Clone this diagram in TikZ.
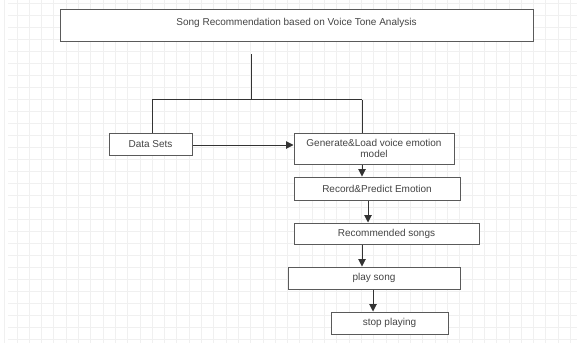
\documentclass[tikz,border=0pt]{standalone}
\usepackage{fontspec}
\setmainfont{Liberation Sans}
\usetikzlibrary{arrows.meta}
\definecolor{gridc}{HTML}{F0F0F0}
\definecolor{boxc}{HTML}{5A5A5A}
\definecolor{linec}{HTML}{333333}
\definecolor{textc}{HTML}{444444}
\tikzset{
  stepbox/.style={draw=boxc, line width=1pt, fill=white, inner sep=0pt,
    text=textc, font=\fontsize{10}{11.5}\selectfont, align=center},
  conn/.style={draw=linec, line width=1pt},
  arr/.style={conn, -{Triangle[length=7.5pt,width=7.5pt]}},
}
\begin{document}
\begin{tikzpicture}[x=1pt,y=-1pt]
\useasboundingbox (0,0) rectangle (577,343);
\fill[white] (0,0) rectangle (577,343);
% background grid
\foreach \gx in {4.5,16.8,...,577} \draw[gridc, line width=0.5pt] (\gx,0) -- (\gx,343);
\foreach \gy in {3,15,...,343} \draw[gridc, line width=0.5pt] (8,\gy) -- (577,\gy);
% nodes
\node[stepbox, minimum width=473pt, text height=12.5pt, text depth=11.5pt, inner ysep=4pt] (title) at (296.5,25) {Song Recommendation based on Voice Tone Analysis};
\node[stepbox, minimum width=83pt, minimum height=22pt] (ds) at (150.5,144) {Data Sets};
\node[stepbox, minimum width=160pt, minimum height=31pt] (gen) at (374,148.5) {Generate\&Load voice emotion\\model};
\node[stepbox, minimum width=166pt, minimum height=23pt] (rec) at (377,188.5) {Record\&Predict Emotion};
\node[stepbox, minimum width=185pt, minimum height=21pt] (rsg) at (386.5,233.5) {Recommended songs};
\node[stepbox, minimum width=172pt, minimum height=22pt] (play) at (374,278) {play song};
\node[stepbox, minimum width=117pt, minimum height=22pt] (stop) at (389.5,323) {stop playing};
% junction coordinates
\coordinate (top) at (251,54);
\coordinate (jc) at (251,99.5);
\coordinate (jl) at (152,99.5);
\coordinate (jr) at (362,99.5);
% connectors
\draw[conn] (top) -- (jc);
\draw[conn] (jl) -- (jr);
\draw[conn] (jl) -- (jl |- ds.north);
\draw[conn] (jr) -- (jr |- gen.north);
\draw[arr] ([yshift=-1pt]ds.east) -- ([yshift=-1pt]ds.east -| gen.west);
\draw[arr] ([xshift=-12pt]gen.south) -- ([xshift=-12pt]gen.south |- rec.north);
\draw[arr] ([xshift=-9pt]rec.south) -- ([xshift=-9pt]rec.south |- rsg.north);
\draw[arr] ([xshift=-24.5pt]rsg.south) -- ([xshift=-24.5pt]rsg.south |- play.north);
\draw[arr] ([xshift=-1pt]play.south) -- ([xshift=-1pt]play.south |- stop.north);
\end{tikzpicture}
\end{document}
